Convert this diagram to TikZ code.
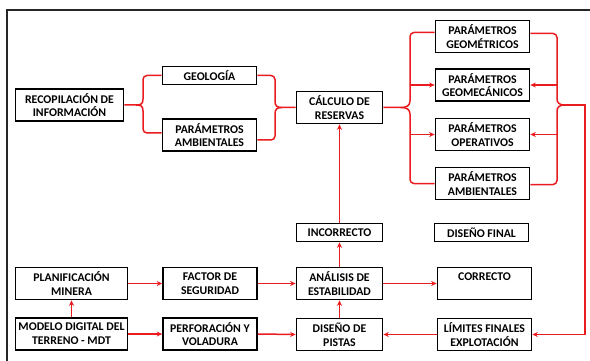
\documentclass[tikz,border=0pt]{standalone}
\usepackage{fontspec}
\setmainfont{Carlito}
\usetikzlibrary{arrows.meta}
\definecolor{lnred}{RGB}{235,28,32}
\begin{document}
\begin{tikzpicture}[x=1pt,y=-1pt,
  box/.style={draw=black, line width=1.7pt, fill=white, align=center, inner sep=0pt,
    font=\bfseries\fontsize{11.8}{13.8}\selectfont, minimum height=32pt},
  one/.style={minimum height=18pt},
  wA/.style={minimum width=94pt},
  wB/.style={minimum width=86pt},
  rl/.style={draw=lnred, line width=1.5pt},
  ar/.style={rl, -{Stealth[length=5.5pt,width=5pt]}},
  bc/.style={rl, rounded corners=4pt}
]
\useasboundingbox (0,0) rectangle (590,361);
\clip (0,0) rectangle (590,361);
\fill[white] (0,0) rectangle (590,361);
\draw[line width=1.3pt, black!85] (7,10) rectangle (600,375);

% nodes
\node[box, minimum width=108pt] (recop) at (69.5,105) {RECOPILACIÓN DE\\INFORMACIÓN};
\node[box, wA, one] (geo) at (209.5,75.5) {GEOLOGÍA};
\node[box, wA] (ambL) at (209.5,135) {PARÁMETROS\\AMBIENTALES};
\node[box, wB] (calc) at (339.5,107.5) {CÁLCULO DE\\RESERVAS};
\node[box, wA] (pgeom) at (482.5,36.5) {PARÁMETROS\\GEOMÉTRICOS};
\node[box, wA] (pgeomec) at (482.5,85) {PARÁMETROS\\GEOMECÁNICOS};
\node[box, wA] (poper) at (482.5,134.5) {PARÁMETROS\\OPERATIVOS};
\node[box, wA] (pamb) at (482.5,183.5) {PARÁMETROS\\AMBIENTALES};
\node[box, wB, one] (incorr) at (339.5,232.5) {INCORRECTO};
\node[box, wA, one] (dfinal) at (481.5,232.5) {DISEÑO FINAL};
\node[box, wB] (anal) at (339.5,283.5) {ANÁLISIS DE\\ESTABILIDAD};
\node[box, wA] (correcto) at (484.5,283.5) {CORRECTO\\\mbox{}};
\node[box, wB] (pistas) at (339.5,334.5) {DISEÑO DE\\PISTAS};
\node[box, wA] (limites) at (484.5,334.5) {LÍMITES FINALES\\EXPLOTACIÓN};
\node[box, minimum width=112pt] (planif) at (71.5,283.5) {PLANIFICACIÓN\\MINERA};
\node[box, minimum width=112pt] (modelo) at (71.5,334) {MODELO DIGITAL DEL\\TERRENO - MDT};
\node[box, wA] (factor) at (210,283.5) {FACTOR DE\\SEGURIDAD};
\node[box, wA] (perf) at (210,334) {PERFORACIÓN Y\\VOLADURA};

% brace 1: recopilacion -> geologia / ambientales
\coordinate (t1) at (136,105);
\draw[rl] (recop.east) -- (t1) .. controls (141,105) and (143,104) .. (143,99);
\draw[bc] (143,99) |- (geo.west);
\draw[rl] (t1) .. controls (141,105) and (143,106) .. (143,111);
\draw[bc] (143,111) |- ([yshift=2pt]ambL.west);

% brace 2: geologia / ambientales -> calculo
\coordinate (t2) at (282,107.5);
\draw[bc] (geo.east) -| (275,101);
\draw[rl] (275,101) .. controls (275,106) and (277,107.5) .. (t2) -- (calc.west);
\draw[bc] ([yshift=-5pt]ambL.east) -| (275,114);
\draw[rl] (275,114) .. controls (275,109) and (277,107.5) .. (t2);

% brace 3: calculo -> parametros
\coordinate (t3) at (401,107.5);
\coordinate (b3) at (410,107.5);
\draw[rl] (calc.east) -- (t3) .. controls (406,107.5) and (410,106) .. (410,101);
\draw[bc] (410,101) |- ([yshift=4pt]pgeom.west);
\draw[rl] (t3) .. controls (406,107.5) and (410,109) .. (410,114);
\draw[bc] (410,114) |- (pamb.west);
\draw[ar] (pgeomec.west -| b3) -- (pgeomec.west);
\draw[ar] (poper.west -| b3) -- (poper.west);

% brace 4: parametros -> limites finales
\coordinate (t4) at (564,105);
\coordinate (b4) at (557,105);
\coordinate (c4) at (585,105);
\draw[bc] ([yshift=3pt]pgeom.east) -| (557,99);
\draw[rl] (557,99) .. controls (557,103) and (560,105) .. (t4);
\draw[bc] ([yshift=-1pt]pamb.east) -| (557,111);
\draw[rl] (557,111) .. controls (557,107) and (560,105) .. (t4);
\draw[ar] (pgeomec.east -| b4) -- (pgeomec.east);
\draw[ar] (poper.east -| b4) -- (poper.east);
\draw[ar] (t4) -- (c4) |- (limites.east);

% other connectors
\draw[ar] (modelo.north) -- (planif.south);
\draw[ar] (planif.east) -- (factor.west);
\draw[ar] (factor.east) -- (anal.west);
\draw[ar] (modelo.east) -- (perf.west);
\draw[ar] (perf.east) -- (pistas.west);
\draw[ar] (pistas.north) -- (anal.south);
\draw[ar] (anal.north) -- (incorr.south);
\draw[ar] (incorr.north) -- (calc.south);
\draw[ar] (anal.east) -- (correcto.west);
\draw[ar] (limites.west) -- (pistas.east);
\end{tikzpicture}
\end{document}
